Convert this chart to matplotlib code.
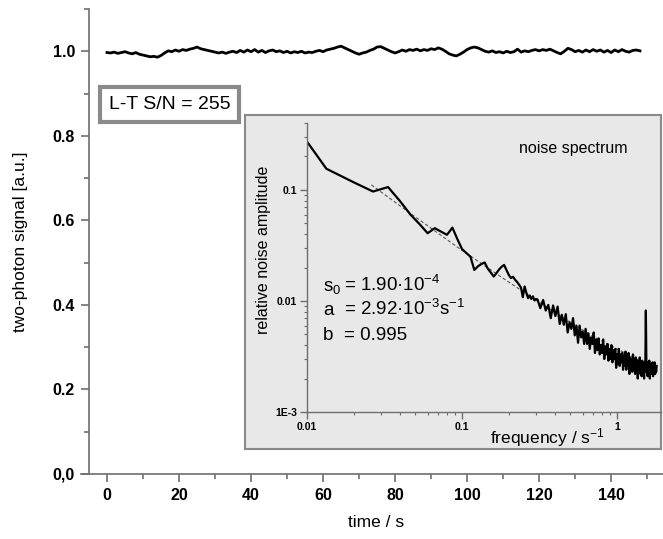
import numpy as np
import matplotlib
matplotlib.use("Agg")
import matplotlib.pyplot as plt
from matplotlib.ticker import FixedLocator, FixedFormatter, MultipleLocator, LogLocator, NullFormatter

plt.rcParams["font.family"] = ["Liberation Sans", "DejaVu Sans"]
plt.rcParams["mathtext.default"] = "regular"

# Zeitreihe (Langzeitmessung), 1 Wert pro Sekunde
t = np.arange(0, 149)
signal = [
    0.997, 0.996, 0.998, 0.995, 0.997, 0.999, 0.996, 0.994, 0.997, 0.993,
    0.991, 0.989, 0.987, 0.988, 0.986, 0.990, 0.996, 1.001, 0.999, 1.003,
    1.000, 1.004, 1.002, 1.005, 1.007, 1.010, 1.006, 1.004, 1.002, 1.000,
    0.998, 0.996, 0.998, 0.995, 0.998, 1.000, 0.997, 1.002, 0.998, 1.003,
    0.999, 1.004, 0.998, 1.002, 0.997, 1.001, 1.003, 0.999, 1.001, 0.997,
    1.000, 0.996, 0.999, 0.997, 1.000, 0.996, 0.998, 0.997, 1.000, 1.002,
    0.999, 1.003, 1.005, 1.007, 1.010, 1.012, 1.008, 1.004, 1.000, 0.996,
    0.993, 0.996, 0.998, 1.002, 1.005, 1.010, 1.011, 1.007, 1.003, 0.999,
    0.996, 0.999, 1.003, 1.000, 1.004, 1.002, 1.005, 1.001, 1.004, 1.002,
    1.006, 1.004, 1.008, 1.005, 1.000, 0.994, 0.991, 0.989, 0.993, 0.998,
    1.004, 1.008, 1.010, 1.008, 1.004, 1.000, 0.998, 1.001, 0.997, 0.999,
    0.996, 1.000, 0.997, 0.999, 1.005, 0.998, 1.001, 0.999, 1.002, 1.004,
    1.001, 1.004, 1.002, 1.005, 1.001, 0.997, 0.994, 1.000, 1.007, 1.004,
    0.999, 1.002, 0.998, 1.003, 0.999, 1.004, 1.000, 1.003, 0.998, 1.002,
    0.997, 1.003, 0.999, 1.004, 1.000, 0.998, 1.002, 1.003, 1.001,
]
yticks = [0.0, 0.2, 0.4, 0.6, 0.8, 1.0]
ytick_labels = ["0,0", "0.2", "0.4", "0.6", "0.8", "1.0"]
xticks = [0, 20, 40, 60, 80, 100, 120, 140]

# Rauschspektrum
f_first = [0.01]
amp_first = [0.272]
f_low = np.arange(2, 46) / 150
amp_low = [
    0.155, 0.117, 0.0966, 0.106, 0.0785, 0.0595, 0.049, 0.0407, 0.0452, 0.042,
    0.0394, 0.0457, 0.036, 0.0293, 0.027, 0.025, 0.019, 0.0205, 0.0215, 0.0222,
    0.0195, 0.018, 0.0166, 0.0178, 0.0192, 0.0203, 0.0211, 0.019, 0.0172, 0.0161,
    0.0165, 0.0155, 0.0148, 0.0140, 0.0132, 0.0108, 0.0135, 0.0118, 0.0106, 0.0112,
    0.0104, 0.0110, 0.0101, 0.0104,
]
f_high = np.arange(46, 271, 2) / 150
amp_high = [
    0.0103, 0.0086, 0.0102, 0.0082, 0.0092, 0.0070, 0.0091, 0.0073, 0.0089, 0.0062,
    0.0075, 0.0061, 0.0076, 0.0052, 0.0064, 0.0056, 0.0070, 0.0049, 0.0060, 0.0042,
    0.0060, 0.0047, 0.0053, 0.0041, 0.0056, 0.0041, 0.0051, 0.0037, 0.0047, 0.0041,
    0.0052, 0.0034, 0.0045, 0.0036, 0.0046, 0.0033, 0.0040, 0.0034, 0.0045, 0.0030,
    0.0039, 0.0033, 0.0041, 0.0029, 0.0037, 0.0030, 0.0040, 0.0028, 0.0036, 0.0030,
    0.0037, 0.0025, 0.0033, 0.0027, 0.0037, 0.0026, 0.0033, 0.0028, 0.0034, 0.0024,
    0.0032, 0.0026, 0.0035, 0.0024, 0.0030, 0.0026, 0.0034, 0.0022, 0.0031, 0.0024,
    0.0030, 0.0023, 0.0033, 0.0025, 0.0029, 0.0022, 0.0031, 0.0025, 0.0029, 0.0020,
    0.0028, 0.0023, 0.0031, 0.0022, 0.0028, 0.0021, 0.0029, 0.0024, 0.0026, 0.0020,
    0.0028, 0.0023, 0.0082, 0.0024, 0.0028, 0.0021, 0.0027, 0.0023, 0.0029, 0.0020,
    0.0026, 0.0022, 0.0027, 0.0024, 0.0028, 0.0021, 0.0026, 0.0023, 0.0028, 0.0022,
    0.0025, 0.0023, 0.0026,
]
freq = np.concatenate([f_first, f_low, f_high])
amp = np.concatenate([amp_first, amp_low, amp_high])

# Fitkurve
fit_f = [0.026, 0.05, 0.1, 0.2, 0.4, 0.7, 1.0, 1.4, 1.8]
fit_amp = [0.111, 0.057, 0.0285, 0.0148, 0.0078, 0.0048, 0.0037, 0.0029, 0.0025]

W, H = 663, 539
grau = "#6e6e6e"

fig = plt.figure(figsize=(W / 100, H / 100), dpi=100)

# Hauptplot
ax = fig.add_axes([89 / W, 65 / H, 574 / W, 465 / H])
ax.plot(t, signal, color="black", lw=2.0)
ax.set_xlim(-5, 154.4)
ax.set_ylim(0, 1.1)
for s in ["top", "right"]:
    ax.spines[s].set_visible(False)
for s in ["left", "bottom"]:
    ax.spines[s].set_color(grau)
    ax.spines[s].set_linewidth(1.2)
ax.spines["bottom"].set_bounds(-7.2, 154.4)
ax.yaxis.set_major_locator(FixedLocator(yticks))
ax.yaxis.set_major_formatter(FixedFormatter(ytick_labels))
ax.yaxis.set_minor_locator(MultipleLocator(0.1))
ax.xaxis.set_major_locator(FixedLocator(xticks))
ax.xaxis.set_minor_locator(MultipleLocator(10))
ax.tick_params(which="major", direction="out", length=6, width=1.2, color=grau,
               labelsize=11.5, pad=4)
ax.tick_params(which="minor", direction="out", length=3.5, width=1.2, color=grau)
for lab in ax.get_xticklabels() + ax.get_yticklabels():
    lab.set_fontweight("bold")
ax.set_xlabel("time / s", fontsize=12.5)
ax.set_ylabel("two-photon signal [a.u.]", fontsize=12.5)
ax.xaxis.set_label_coords(0.5, -0.088)
ax.yaxis.set_label_coords(-0.106, 0.5)

ax.text(0.141, 0.795, "L-T S/N = 255", transform=ax.transAxes, fontsize=14,
        ha="center", va="center",
        bbox=dict(boxstyle="square,pad=0.45", facecolor="white", edgecolor="#8a8a8a", lw=3))

# Hintergrund des Insets
bg = fig.add_axes([245 / W, 90 / H, 416 / W, 334 / H])
bg.set_facecolor("#e8e8e8")
bg.set_xticks([])
bg.set_yticks([])
for s in bg.spines.values():
    s.set_color("#8a8a8a")
    s.set_linewidth(1.5)

# Inset: Rauschspektrum
ins = fig.add_axes([307 / W, 127 / H, 354 / W, 289 / H])
ins.patch.set_alpha(0)
ins.loglog(fit_f, fit_amp, color="#555555", lw=0.8, ls=(0, (3, 2)))
ins.loglog(freq, amp, color="black", lw=1.6)
ins.set_xlim(0.01, 1.92)
ins.set_ylim(1e-3, 0.40)
for s in ["top", "right"]:
    ins.spines[s].set_visible(False)
for s in ["left", "bottom"]:
    ins.spines[s].set_color(grau)
    ins.spines[s].set_linewidth(1.0)
ins.xaxis.set_major_locator(FixedLocator([0.01, 0.1, 1]))
ins.xaxis.set_major_formatter(FixedFormatter(["0.01", "0.1", "1"]))
ins.yaxis.set_major_locator(FixedLocator([1e-3, 0.01, 0.1]))
ins.yaxis.set_major_formatter(FixedFormatter(["1E-3", "0.01", "0.1"]))
ins.xaxis.set_minor_locator(LogLocator(base=10, subs=np.arange(2, 10)))
ins.yaxis.set_minor_locator(LogLocator(base=10, subs=np.arange(2, 10)))
ins.xaxis.set_minor_formatter(NullFormatter())
ins.yaxis.set_minor_formatter(NullFormatter())
ins.tick_params(which="major", direction="out", length=5, width=1.0, color=grau,
                labelsize=7.5, pad=2)
ins.tick_params(which="minor", direction="out", length=2.5, width=0.8, color=grau)
for lab in ins.get_xticklabels() + ins.get_yticklabels():
    lab.set_fontweight("bold")

ins.text(-0.124, 0.56, "relative noise amplitude", transform=ins.transAxes,
         rotation=90, ha="center", va="center", fontsize=11.5)
ins.text(0.678, -0.09, "frequency / s$^{-1}$", transform=ins.transAxes,
         ha="center", va="center", fontsize=12.5)
ins.text(0.751, 0.913, "noise spectrum", transform=ins.transAxes,
         ha="center", va="center", fontsize=11.5)

par_namen = ["s$_0$", "a", "b"]
par_werte = ["= 1.90·10$^{-4}$", "= 2.92·10$^{-3}$s$^{-1}$", "= 0.995"]
par_y = [0.42, 0.335, 0.25]
for name, wert, yy in zip(par_namen, par_werte, par_y):
    ins.text(0.045, yy, name, transform=ins.transAxes, fontsize=13.5, va="baseline")
    ins.text(0.105, yy, wert, transform=ins.transAxes, fontsize=13.5, va="baseline")

fig.savefig("out.png", dpi=100)
